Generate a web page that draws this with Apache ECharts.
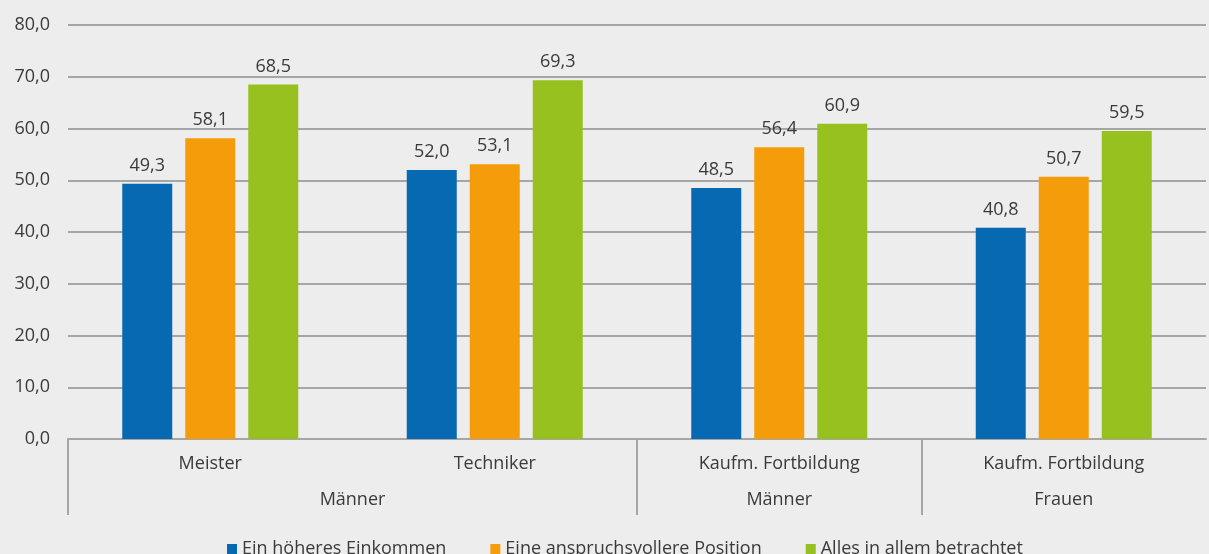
<!DOCTYPE html>
<html>
<head>
<meta charset="utf-8">
<script src="https://cdn.jsdelivr.net/npm/echarts@6/dist/echarts.min.js"></script>
<style>
html,body{margin:0;padding:0;background:#EDEDED;}
#chart{width:1209px;height:554px;}
</style>
</head>
<body>
<div id="chart"></div>
<script>
const categories = ['Meister', 'Techniker', 'Kaufm. Fortbildung', 'Kaufm. Fortbildung'];
const groupLabels = ['', '', 'Männer', '', '', 'Männer', '', 'Frauen', ''];
const groupSeparators = [0, 4, 6];
const seriesNames = ['Ein höheres Einkommen', 'Eine anspruchsvollere Position', 'Alles in allem betrachtet'];
const einkommen = [49.3, 52.0, 48.5, 40.8];
const position = [58.1, 53.1, 56.4, 50.7];
const allesInAllem = [68.5, 69.3, 60.9, 59.5];
const colors = ['#0769B2', '#F59C0A', '#96C11F'];

const FONT = '"Open Sans", "Noto Sans", sans-serif';
const TXT = '#3A3A3A';
const FS = 18;
const fmt = v => Number(v).toFixed(1).replace('.', ',');

const chart = echarts.init(document.getElementById('chart'));
const mkSeries = (name, data, i) => ({
  name: name,
  type: 'bar',
  data: data,
  xAxisIndex: 0,
  barWidth: 50,
  barGap: '26%',
  itemStyle: { color: colors[i] },
  label: {
    show: true, position: 'top', distance: 9,
    formatter: p => fmt(p.value),
    fontFamily: FONT, fontSize: FS, color: TXT
  }
});
chart.setOption({
  backgroundColor: '#EDEDED',
  animation: false,
  grid: { left: 68, right: 0, top: 25, bottom: 115, containLabel: false },
  legend: {
    bottom: -9, left: 222,
    itemWidth: 10, itemHeight: 10, itemGap: 44,
    icon: 'rect',
    textStyle: { fontFamily: FONT, fontSize: FS, color: TXT },
    data: seriesNames
  },
  xAxis: [
    {
      type: 'category', data: categories, position: 'bottom',
      axisLine: { lineStyle: { color: '#A6A6A6', width: 2 } },
      axisTick: { show: false },
      axisLabel: { margin: 16, fontFamily: FONT, fontSize: FS, color: TXT, interval: 0 }
    },
    {
      type: 'category', data: groupLabels, position: 'bottom', offset: 0,
      boundaryGap: false,
      axisLine: { show: false },
      axisTick: {
        show: true, length: 76, inside: false,
        interval: (idx) => groupSeparators.indexOf(idx) >= 0,
        lineStyle: { color: '#A6A6A6', width: 2 }
      },
      axisLabel: { margin: 52, fontFamily: FONT, fontSize: FS, color: TXT, interval: 0 }
    }
  ],
  yAxis: {
    type: 'value', min: 0, max: 80, interval: 10,
    axisLine: { show: false }, axisTick: { show: false },
    splitLine: { lineStyle: { color: '#A6A6A6', width: 2 } },
    axisLabel: { formatter: fmt, margin: 18, fontFamily: FONT, fontSize: FS, color: TXT }
  },
  series: [
    mkSeries(seriesNames[0], einkommen, 0),
    mkSeries(seriesNames[1], position, 1),
    mkSeries(seriesNames[2], allesInAllem, 2)
  ]
});
</script>
</body>
</html>
